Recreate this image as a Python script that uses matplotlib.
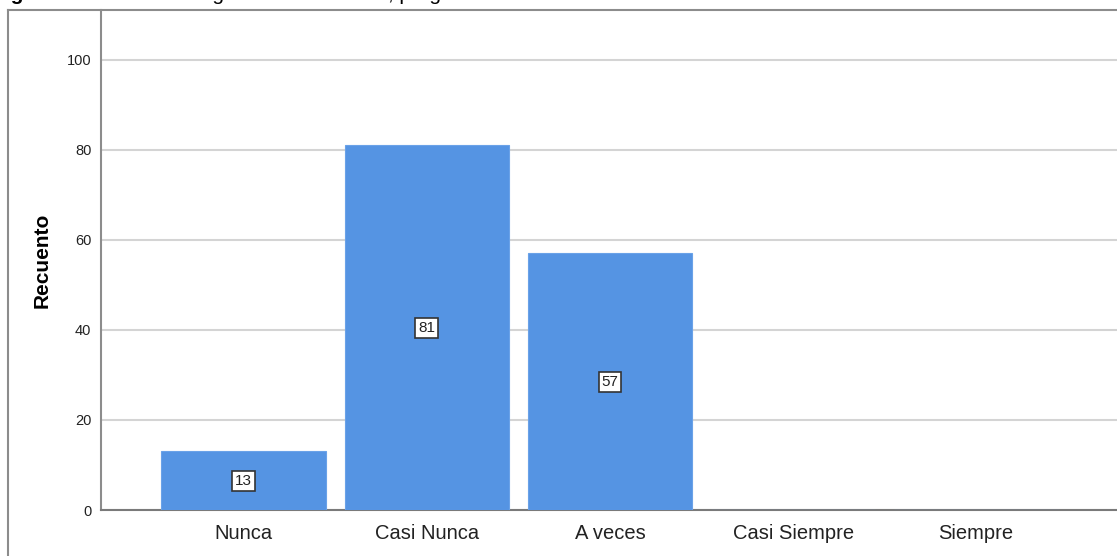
import numpy as np
import matplotlib.pyplot as plt
from matplotlib.lines import Line2D

# respuestas y recuentos
categorias = ["Nunca", "Casi Nunca", "A veces", "Casi Siempre", "Siempre"]
recuentos = [13, 81, 57, 0, 0]
yticks = [0, 20, 40, 60, 80, 100]

plt.rcParams['font.family'] = ['Liberation Sans', 'DejaVu Sans']

fig = plt.figure(figsize=(11.17, 5.56), dpi=100)
ax = fig.add_axes([101 / 1117, 1 - 510 / 556, 1018 / 1117, 500 / 556])

x = np.arange(len(categorias))
barras = ax.bar(x, recuentos, width=0.9, color='#5594e3', edgecolor='#6aa2e8',
                linewidth=0.8, zorder=3)

# etiqueta con el recuento en el centro de cada barra
for xi, v in zip(x, recuentos):
    if v > 0:
        ax.text(xi, v / 2, str(v), ha='center', va='center', fontsize=11,
                color='#222222', zorder=4,
                bbox=dict(boxstyle='square,pad=0.2', fc='white', ec='#333333', lw=1.2))

ax.set_xlim(-0.78, 4.78)
ax.set_ylim(0, 111)
ax.set_yticks(yticks)
ax.set_xticks(x)
ax.set_xticklabels(categorias, fontsize=14.5, color='#222222')
ax.tick_params(axis='y', labelsize=10.5, length=0, pad=7, colors='#222222')
ax.tick_params(axis='x', length=0, pad=10)
ax.yaxis.grid(True, color='#d4d4d4', linewidth=1.5, zorder=0)
ax.set_axisbelow(True)

for lado in ['top', 'right']:
    ax.spines[lado].set_visible(False)
ax.spines['left'].set_color('#8c8c8c')
ax.spines['bottom'].set_color('#7a7a7a')
ax.spines['left'].set_linewidth(1.5)
ax.spines['bottom'].set_linewidth(1.5)

ax.set_ylabel("Recuento", fontsize=15, fontweight='bold', va='center')
ax.yaxis.set_label_coords(-0.058, 0.5)

# marco exterior del grafico
y_top = 1 - 10 / 556
x_left = 8 / 1117
fig.add_artist(Line2D([x_left, 1.0], [y_top, y_top], transform=fig.transFigure,
                      color='#8c8c8c', linewidth=1.5))
fig.add_artist(Line2D([x_left, x_left], [0, y_top], transform=fig.transFigure,
                      color='#8c8c8c', linewidth=1.5))

# titulo (queda cortado por el borde superior)
fig.text(-8 / 1117, 1, "Figura 10", fontsize=15, fontweight='bold',
         va='baseline', ha='left')
fig.text(80 / 1117, 1, "Resultados según la dimensión 1, pregunta 10",
         fontsize=15, va='baseline', ha='left')

fig.savefig("out.png", dpi=100)
